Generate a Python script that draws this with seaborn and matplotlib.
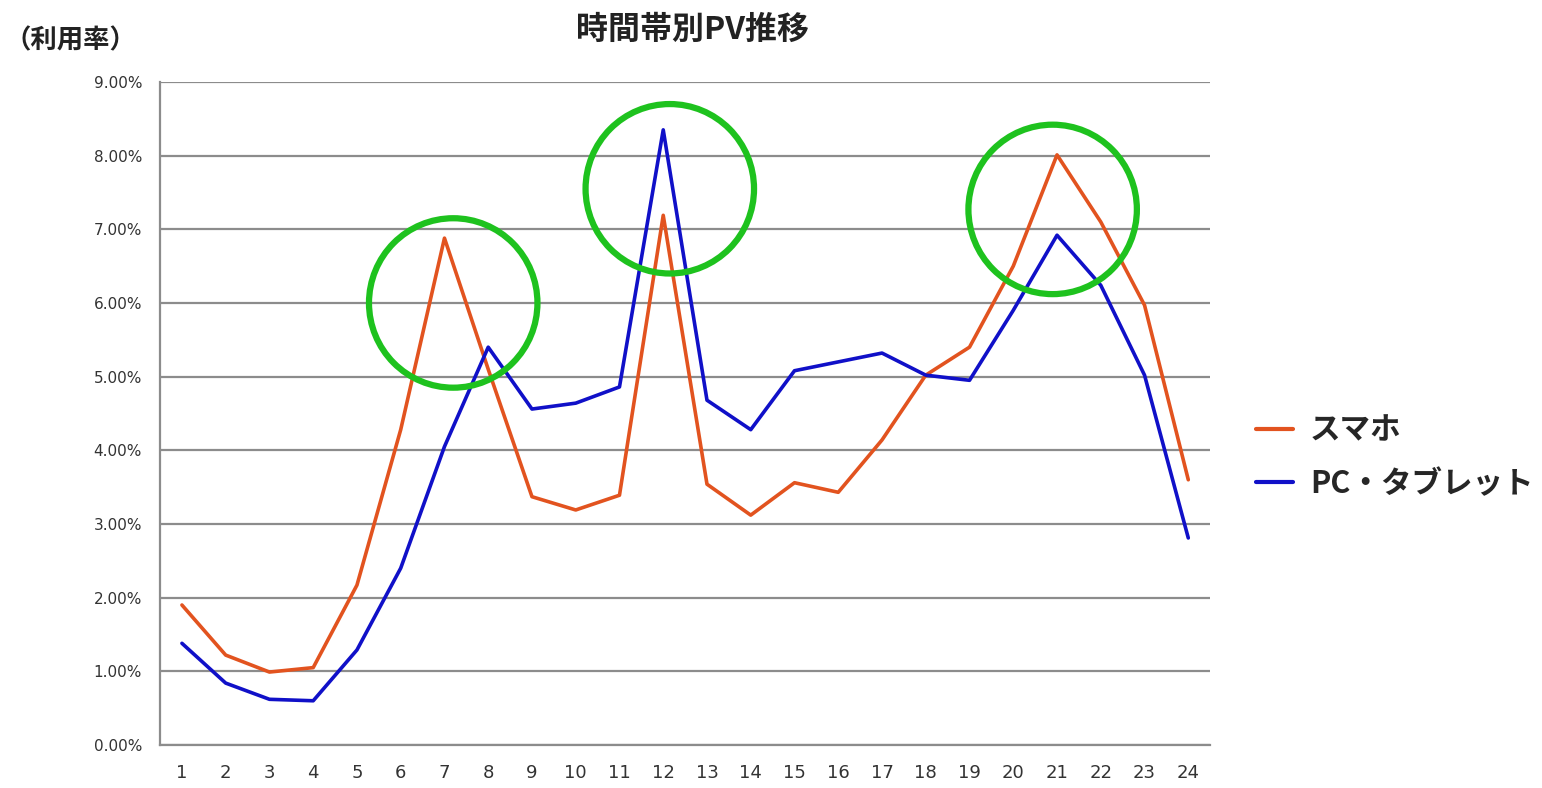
import pandas as pd
import matplotlib.pyplot as plt
import seaborn as sns
from matplotlib.patches import Ellipse
from matplotlib.ticker import FuncFormatter

# 時間帯 (1-24時)
hours = list(range(1, 25))

# 利用率 (%)
smartphone = [1.90, 1.22, 0.99, 1.05, 2.17, 4.28, 6.88, 5.10, 3.37, 3.19, 3.39, 7.19,
              3.54, 3.12, 3.56, 3.43, 4.14, 5.02, 5.40, 6.50, 8.01, 7.10, 5.97, 3.60]
pc_tablet = [1.38, 0.84, 0.62, 0.60, 1.29, 2.40, 4.05, 5.40, 4.56, 4.64, 4.86, 8.35,
             4.68, 4.28, 5.08, 5.20, 5.32, 5.02, 4.95, 5.90, 6.92, 6.24, 5.02, 2.81]

series_names = ["スマホ", "PC・タブレット"]
colors = ["#E2531F", "#1010C8"]

# 強調する丸の中心 (時間, 利用率)
highlight_x = [7.2, 12.15, 20.9]
highlight_y = [6.0, 7.55, 7.27]

df = pd.DataFrame({
    "hour": hours * 2,
    "rate": smartphone + pc_tablet,
    "device": [series_names[0]] * 24 + [series_names[1]] * 24,
})

sns.set_style("white")
plt.rcParams["font.family"] = ["Noto Sans CJK JP", "DejaVu Sans"]

fig = plt.figure(figsize=(15.42, 7.88), dpi=100)
ax = fig.add_axes([0.1038, 0.0546, 0.681, 0.8414])

sns.lineplot(data=df, x="hour", y="rate", hue="device", palette=colors,
             linewidth=2.6, ax=ax, legend=False)

ax.set_xlim(0.5, 24.5)
ax.set_ylim(0, 9)
ax.set_xticks(hours)
ax.set_yticks(range(0, 10))
ax.yaxis.set_major_formatter(FuncFormatter(lambda v, p: f"{v:.2f}%"))
ax.grid(axis="y", color="#8c8c8c", linewidth=1.6)
ax.set_axisbelow(True)
for s in ["top", "right"]:
    ax.spines[s].set_visible(False)
for s in ["left", "bottom"]:
    ax.spines[s].set_color("#8c8c8c")
    ax.spines[s].set_linewidth(1.6)
ax.tick_params(axis="y", length=5, color="#8c8c8c", labelsize=11, pad=8)
ax.tick_params(axis="x", length=0, labelsize=13, pad=14)
for lab in ax.get_xticklabels() + ax.get_yticklabels():
    lab.set_family(["DejaVu Sans"])
    lab.set_color("#333333")
ax.set_xlabel("")
ax.set_ylabel("")

# 緑の丸
for cx, cy in zip(highlight_x, highlight_y):
    ax.add_patch(Ellipse((cx, cy), width=3.85, height=2.3, fill=False,
                         edgecolor="#1EC21E", linewidth=4.5, zorder=5))

fig.text(0.449, 0.962, "時間帯別PV推移", ha="center", va="center",
         fontsize=23, fontweight="bold", color="#222222")
fig.text(0.046, 0.948, "（利用率）", ha="center", va="center",
         fontsize=19, fontweight="bold", color="#222222")

handles = [plt.Line2D([], [], color=c, linewidth=3) for c in colors]
fig.legend(handles, series_names, loc="center left", bbox_to_anchor=(0.797, 0.42),
           frameon=False, handlelength=1.2, handletextpad=0.55, labelspacing=0.7,
           prop={"weight": "bold", "size": 22})

fig.savefig("out.png", dpi=100)
